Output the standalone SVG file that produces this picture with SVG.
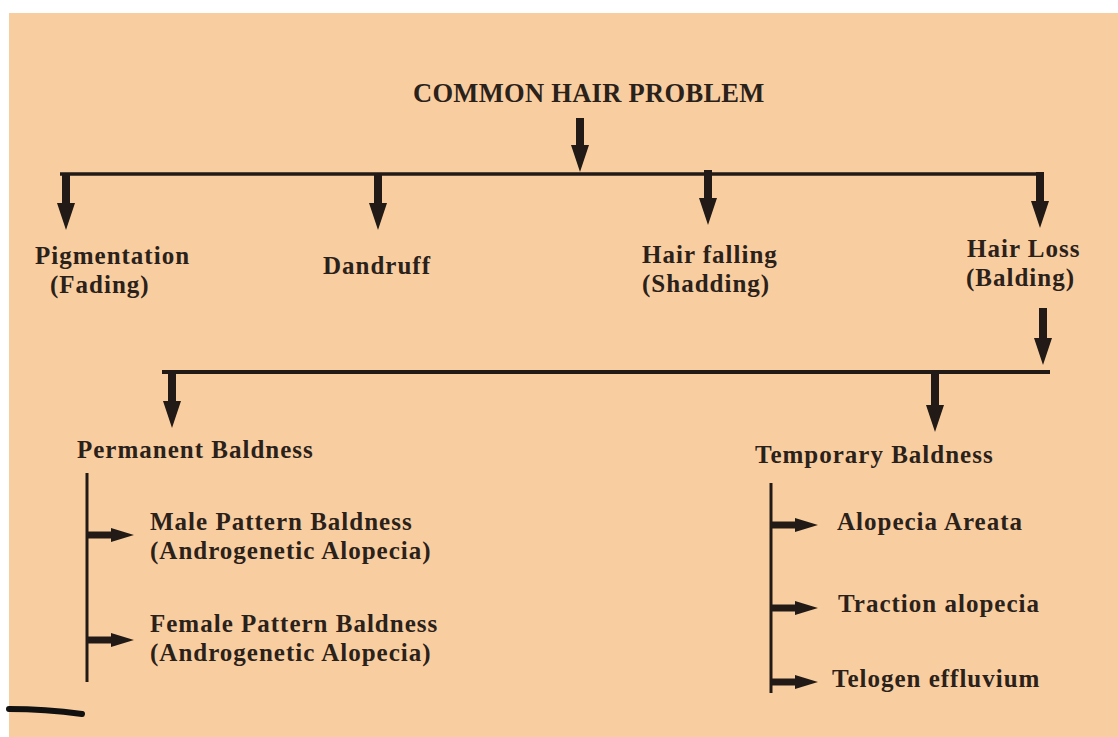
<svg xmlns="http://www.w3.org/2000/svg" width="1118" height="737" viewBox="0 0 1118 737">
<defs>
<style>
.t{font-family:"Liberation Serif","Times New Roman",serif;font-weight:bold;fill:#2b211b;font-size:25px;letter-spacing:1px}
.title{font-size:26.5px;letter-spacing:0.3px}
.ln{stroke:#221a16;fill:none}
.sh{stroke:#221a16;stroke-width:8;fill:none}
.sh2{stroke:#221a16;stroke-width:7;fill:none}
</style>
<marker id="ah" markerUnits="userSpaceOnUse" markerWidth="28" markerHeight="20" refX="0" refY="9" orient="auto" viewBox="0 0 28 18">
<path d="M0,0 L27,9 L0,18 Z" fill="#221a16"/>
</marker>
<marker id="ah2" markerUnits="userSpaceOnUse" markerWidth="24" markerHeight="16" refX="0" refY="7" orient="auto" viewBox="0 0 24 14">
<path d="M0,0 L23,7 L0,14 Z" fill="#221a16"/>
</marker>
</defs>
<rect x="0" y="0" width="1118" height="737" fill="#ffffff"/>
<rect x="9" y="13" width="1109" height="724" fill="#f8cea0"/>
<g id="connectors">
<line class="ln" x1="60" y1="174" x2="1043" y2="174" stroke-width="3.5"/>
<line class="ln" x1="162" y1="372" x2="1050" y2="372" stroke-width="4"/>
<line class="ln" x1="87" y1="473" x2="87" y2="682" stroke-width="3"/>
<line class="ln" x1="771" y1="483" x2="771" y2="693" stroke-width="3"/>
<path class="sh" d="M580,118 V145" marker-end="url(#ah)"/>
<path class="sh" d="M66,173 V203" marker-end="url(#ah)"/>
<path class="sh" d="M378,173 V203" marker-end="url(#ah)"/>
<path class="sh" d="M708,170 V198" marker-end="url(#ah)"/>
<path class="sh" d="M1040,172 V201" marker-end="url(#ah)"/>
<path class="sh" d="M1043,308 V338" marker-end="url(#ah)"/>
<path class="sh" d="M172,372 V401" marker-end="url(#ah)"/>
<path class="sh" d="M935,372 V405" marker-end="url(#ah)"/>
<path class="sh2" d="M87,535 H111" marker-end="url(#ah2)"/>
<path class="sh2" d="M87,640 H111" marker-end="url(#ah2)"/>
<path class="sh2" d="M771,525 H795" marker-end="url(#ah2)"/>
<path class="sh2" d="M771,608 H795" marker-end="url(#ah2)"/>
<path class="sh2" d="M771,682 H795" marker-end="url(#ah2)"/>
</g>
<g id="title"><text class="t title" x="413" y="102">COMMON HAIR PROBLEM</text></g>
<g id="pigmentation"><text class="t" x="35" y="264">Pigmentation</text><text class="t" x="50" y="293">(Fading)</text></g>
<g id="dandruff"><text class="t" x="323" y="274">Dandruff</text></g>
<g id="hair-falling"><text class="t" x="642" y="263">Hair falling</text><text class="t" x="642" y="292">(Shadding)</text></g>
<g id="hair-loss"><text class="t" x="967" y="257">Hair Loss</text><text class="t" x="966" y="286">(Balding)</text></g>
<g id="permanent"><text class="t" x="77" y="458">Permanent Baldness</text></g>
<g id="temporary"><text class="t" x="755" y="463">Temporary Baldness</text></g>
<g id="male"><text class="t" x="150" y="530">Male Pattern Baldness</text><text class="t" x="150" y="559">(Androgenetic Alopecia)</text></g>
<g id="female"><text class="t" x="150" y="632">Female Pattern Baldness</text><text class="t" x="150" y="661">(Androgenetic Alopecia)</text></g>
<g id="alopecia-areata"><text class="t" x="837" y="530">Alopecia Areata</text></g>
<g id="traction"><text class="t" x="838" y="612">Traction alopecia</text></g>
<g id="telogen"><text class="t" x="832" y="687">Telogen effluvium</text></g>
<path d="M9,709 Q45,709 82,714" stroke="#111" stroke-width="6" fill="none" stroke-linecap="round"/>
</svg>
